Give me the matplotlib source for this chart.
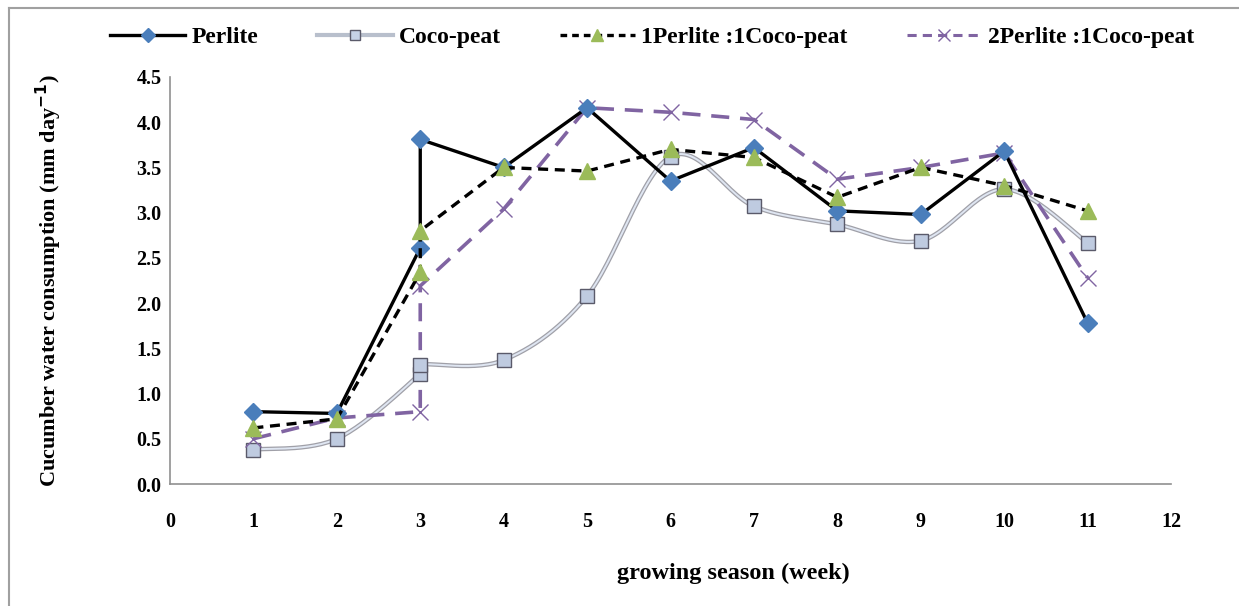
import numpy as np
import matplotlib
matplotlib.use("Agg")
import matplotlib.pyplot as plt
from matplotlib.lines import Line2D

plt.rcParams["font.family"] = ["Liberation Serif", "DejaVu Serif"]
plt.rcParams["font.weight"] = "bold"

# weeks (week 3 has two readings in several series)
perlite_x = [1, 2, 3, 3, 4, 5, 6, 7, 8, 9, 10, 11]
perlite_y = [0.80, 0.78, 2.61, 3.81, 3.50, 4.16, 3.35, 3.72, 3.02, 2.98, 3.68, 1.78]

coco_x = [1, 2, 3, 3, 4, 5, 6, 7, 8, 9, 10, 11]
coco_y = [0.38, 0.50, 1.22, 1.32, 1.37, 2.08, 3.62, 3.07, 2.87, 2.69, 3.26, 2.67]

mix11_x = [1, 2, 3, 3, 4, 5, 6, 7, 8, 9, 10, 11]
mix11_y = [0.62, 0.72, 2.34, 2.80, 3.50, 3.46, 3.70, 3.61, 3.17, 3.50, 3.30, 3.02]

mix21_x = [1, 2, 3, 3, 4, 5, 6, 7, 8, 9, 10, 11]
mix21_y = [0.50, 0.73, 0.80, 2.19, 3.04, 4.16, 4.11, 4.03, 3.37, 3.50, 3.66, 2.28]

x_ticks = list(range(0, 13))
y_ticks = [0.0, 0.5, 1.0, 1.5, 2.0, 2.5, 3.0, 3.5, 4.0, 4.5]


def smooth(xs, ys, n=30):
    # Catmull-Rom curve through the points, like Excel's smoothed line
    p = np.column_stack([xs, ys]).astype(float)
    p = np.vstack([p[0], p, p[-1]])
    out = []
    for i in range(1, len(p) - 2):
        p0, p1, p2, p3 = p[i - 1], p[i], p[i + 1], p[i + 2]
        t = np.linspace(0, 1, n)[:, None]
        seg = 0.5 * ((2 * p1) + (-p0 + p2) * t + (2 * p0 - 5 * p1 + 4 * p2 - p3) * t ** 2
                     + (-p0 + 3 * p1 - 3 * p2 + p3) * t ** 3)
        out.append(seg)
    c = np.vstack(out)
    return c[:, 0], c[:, 1]


fig = plt.figure(figsize=(12.39, 6.06), dpi=100)
ax = fig.add_axes([170 / 1239, 122 / 606, 1001 / 1239, 407 / 606])

blue = "#4a7ebb"
green = "#9bbb59"
purple = "#8064a2"

# Coco-peat: smooth double line
sx, sy = smooth(coco_x, coco_y)
ax.plot(sx, sy, color="#a0a0a8", lw=3.2, zorder=2, solid_capstyle="round")
ax.plot(sx, sy, color="#dfe6f2", lw=1.4, zorder=2.1)
ax.plot(coco_x, coco_y, ls="none", marker="s", ms=10, mfc="#bfcbe0",
        mec="#5a5a6a", mew=1.0, zorder=3)

ax.plot(mix21_x, mix21_y, color=purple, lw=2.6, ls=(0, (5, 3)), zorder=2.5)
ax.plot(mix21_x, mix21_y, ls="none", marker="x", ms=12, mec=purple, mew=1.0, zorder=3.2)

ax.plot(perlite_x, perlite_y, color="black", lw=2.4, zorder=4)
ax.plot(perlite_x, perlite_y, ls="none", marker="D", ms=9, mfc=blue, mec=blue, zorder=4.2)

ax.plot(mix11_x, mix11_y, color="black", lw=2.4, ls=(0, (3, 2)), zorder=4.5)
ax.plot(mix11_x, mix11_y, ls="none", marker="^", ms=11, mfc=green, mec=green, zorder=4.6)

ax.set_xlim(0, 12)
ax.set_ylim(0, 4.5)
ax.set_xticks(x_ticks)
ax.set_yticks(y_ticks)
ax.set_yticklabels([f"{v:.1f}" for v in y_ticks])
ax.tick_params(length=0, labelsize=14.5)
ax.tick_params(axis="y", pad=6)
ax.tick_params(axis="x", pad=20)
for s in ["top", "right"]:
    ax.spines[s].set_visible(False)
for s in ["left", "bottom"]:
    ax.spines[s].set_color("#909090")
    ax.spines[s].set_linewidth(1.2)

ax.set_ylabel("Cucumber water consumption (mm day$^{\\mathbf{-1}}$)", fontsize=16,
              fontweight="bold", labelpad=52)
fig.text(733 / 1239, 1 - 573 / 606, "growing season (week)", ha="center", va="center",
         fontsize=17.5, fontweight="bold")

handles = [
    Line2D([], [], color="black", lw=2.4, marker="D", ms=7, mfc=blue, mec=blue),
    Line2D([], [], color="#b8bfcc", lw=3, marker="s", ms=7, mfc="#c5d1e6", mec="#5a5a6a"),
    Line2D([], [], color="black", lw=2.4, ls=(0, (2, 1.5)), marker="^", ms=8, mfc=green, mec=green),
    Line2D([], [], color=purple, lw=2.2, ls=(0, (3, 2)), marker="x", ms=9, mec=purple),
]
labels = ["Perlite", "Coco-peat", "1Perlite :1Coco-peat", "2Perlite :1Coco-peat"]
fig.legend(handles, labels, loc="center", bbox_to_anchor=(652 / 1239, 1 - 37 / 606), ncol=4,
           frameon=False, fontsize=17, handlelength=3.2, columnspacing=2.5, handletextpad=0.25)

# outer chart frame (top and left edges visible)
fig.add_artist(Line2D([9 / 1239, 9 / 1239], [0, 1 - 8 / 606], transform=fig.transFigure,
                      color="#a0a0a0", lw=1.5))
fig.add_artist(Line2D([9 / 1239, 1], [1 - 8 / 606, 1 - 8 / 606], transform=fig.transFigure,
                      color="#a0a0a0", lw=1.5))

fig.savefig("out.png", dpi=100)
